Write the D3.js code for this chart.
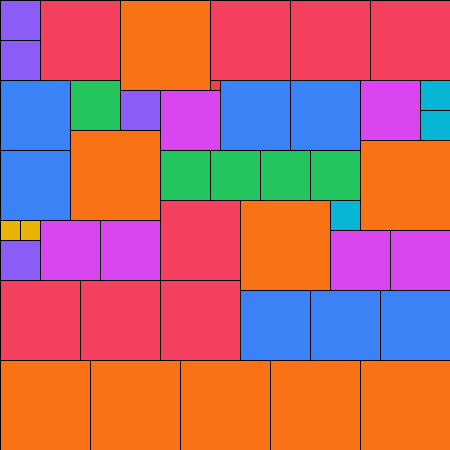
<!DOCTYPE html>
<html>
<head>
<meta charset="utf-8">
<script src="https://cdn.jsdelivr.net/npm/d3@7"></script>
<style>
html,body{margin:0;padding:0;background:#fff;}
svg{display:block;}
</style>
</head>
<body>
<div id="chart"></div>
<script>
// Partridge packing: n squares of side n (n = 1..9), grid units
const sizes = [9, 8, 7, 6, 5, 4, 3, 2, 1];
const colors = ["#f97316", "#f43f5e", "#3b82f6", "#d946ef", "#22c55e", "#8b5cf6", "#06b6d4", "#eab308", "#ef4444"];
const pos9 = [[12,0],[7,13],[36,14],[24,20],[0,36],[9,36],[18,36],[27,36],[36,36]];
const pos8 = [[4,0],[21,0],[29,0],[37,0],[16,20],[0,28],[8,28],[16,28]];
const pos7 = [[0,8],[22,8],[29,8],[0,15],[24,29],[31,29],[38,29]];
const pos6 = [[16,9],[36,8],[4,22],[10,22],[33,23],[39,23]];
const pos5 = [[7,8],[16,15],[21,15],[26,15],[31,15]];
const pos4 = [[0,0],[0,4],[12,9],[0,24]];
const pos3 = [[42,8],[42,11],[33,20]];
const pos2 = [[0,22],[2,22]];
const pos1 = [[21,8]];
const positions = [pos9, pos8, pos7, pos6, pos5, pos4, pos3, pos2, pos1];

const W = 450, H = 450, total = 45;
const x = d3.scaleLinear().domain([0, total]).range([0, W]);
const y = d3.scaleLinear().domain([0, total]).range([0, H]);
const color = d3.scaleOrdinal().domain(sizes).range(colors);

const squares = [];
sizes.forEach((s, i) => positions[i].forEach(p => squares.push({size: s, x: p[0], y: p[1]})));

const svg = d3.select("#chart").append("svg").attr("width", W).attr("height", H);
svg.selectAll("rect").data(squares).join("rect")
  .attr("x", d => x(d.x) + 0.5)
  .attr("y", d => y(d.y) + 0.5)
  .attr("width", d => x(d.size) - x(0))
  .attr("height", d => y(d.size) - y(0))
  .attr("fill", d => color(d.size))
  .attr("stroke", "#000")
  .attr("stroke-width", 1);
</script>
</body>
</html>
